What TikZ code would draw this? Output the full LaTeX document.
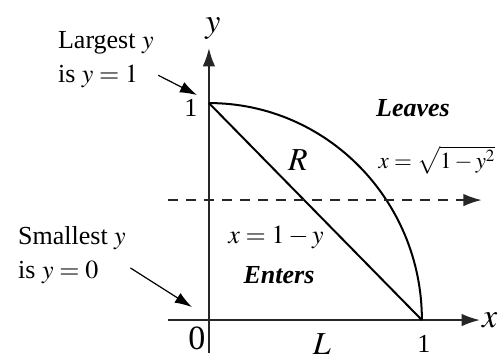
\documentclass[tikz,border=0pt]{standalone}
\usepackage{mathptmx}
\usepackage{fontspec}
\setmainfont{Liberation Serif}
\usetikzlibrary{arrows.meta,positioning,calc}
\tikzset{
  axis/.style={-{Latex[length=3.2mm,width=2.2mm]}, line width=0.8pt, draw=black!85},
  curve/.style={line width=1pt},
  note/.style={align=left, inner sep=0pt, font=\fontsize{13}{17}\selectfont},
  pointer/.style={-{Latex[length=3mm,width=2mm]}, line width=0.6pt},
  lbl/.style={inner sep=0pt, font=\fontsize{13}{15}\selectfont}
}

\begin{document}
\begin{tikzpicture}[x=106.5pt, y=108.5pt]
\useasboundingbox (-0.981,-0.175) rectangle (1.362,1.475);

% axes
\coordinate (o) at (0,0);
\coordinate (xs) at (-0.192,0);
\coordinate (xe) at (1.272,0);
\coordinate (ys) at (0,-0.152);
\coordinate (ye) at (0,1.253);
\draw[axis] (xs) -- (xe);
\draw[axis] (ys) -- (ye);
\node[lbl, right=1pt of xe, font=\fontsize{17}{17}\selectfont] (xlab) {$x$};
\node[lbl, above=4pt of ye, xshift=2pt, font=\fontsize{17}{17}\selectfont] (ylab) {$y$};

% region R
\coordinate (top) at (0,1);
\coordinate (rgt) at (1,0);
\draw[curve] (top) -- (rgt);
\draw[curve] (rgt) arc[start angle=0, end angle=90, x radius=1, y radius=1];

% horizontal line
\coordinate (hs) at (-0.192,0.553);
\coordinate (he) at (1.28,0.553);
\draw[axis, dashed, line width=0.7pt, dash pattern=on 5pt off 4pt] (hs) -- (he);

% tick labels
\node[lbl] (one) at (-0.085,0.977) {1};
\node[lbl, font=\fontsize{17}{17}\selectfont] (zero) at (-0.056,-0.085) {0};
\node[lbl] (onex) at (1.009,-0.108) {1};
\node[lbl, font=\fontsize{16}{16}\selectfont] (len) at (0.53,-0.11) {$L$};
\node[lbl, font=\fontsize{16}{16}\selectfont] (reg) at (0.418,0.737) {$R$};

% labels for the boundaries
\node[lbl] (leaves) at (0.958,0.977) {\textbf{\textit{Leaves}}};
\node[lbl, anchor=west, font=\fontsize{11.5}{13}\selectfont] (outer) at (0.795,0.737) {$x=\sqrt{1-y^2}$};
\node[lbl, anchor=west] (inner) at (0.089,0.382) {$x=1-y$};
\node[lbl] (enters) at (0.329,0.207) {\textbf{\textit{Enters}}};

% notes
\node[note] (largest) at (-0.484,1.198) {Largest $y$\\is $y=1$};
\node[note] (smallest) at (-0.643,0.300) {Smallest $y$\\is $y=0$};
\coordinate (ptop) at (-0.056,1.037);
\coordinate (pbot) at (-0.080,0.060);
\draw[pointer] ($(largest.east)+(0.02,-0.07)$) -- (ptop);
\draw[pointer] ($(smallest.east)+(0.02,-0.06)$) -- (pbot);
\end{tikzpicture}
\end{document}
